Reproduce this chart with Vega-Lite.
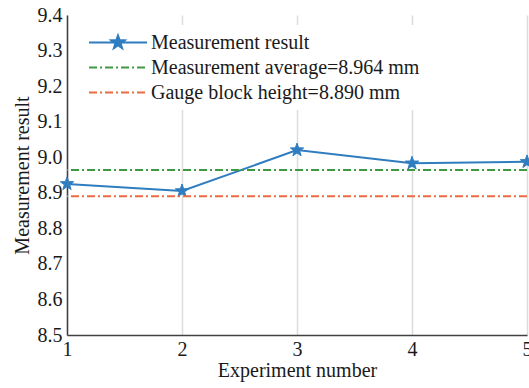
{
  "$schema": "https://vega.github.io/schema/vega-lite/v6.json",
  "width": 460,
  "height": 320,
  "autosize": {"type": "none"},
  "padding": {"left": 67, "top": 15, "right": 2, "bottom": 53},
  "background": "white",
  "config": {
    "view": {"stroke": null},
    "font": "Liberation Serif",
    "axis": {
      "labelFont": "Liberation Serif",
      "titleFont": "Liberation Serif",
      "labelFontSize": 20,
      "titleFontSize": 20,
      "titleFontWeight": "normal",
      "labelColor": "#1a1a1a",
      "titleColor": "#1a1a1a",
      "domainColor": "#404040",
      "domainWidth": 1.5,
      "ticks": false,
      "labelOverlap": false
    },
    "legend": {
      "labelFont": "Liberation Serif",
      "labelFontSize": 20,
      "labelColor": "#1a1a1a",
      "labelLimit": 0
    }
  },
  "layer": [
    {
      "data": {
        "values": [
          {"experiment": 1, "result": 8.925, "series": "Measurement result"},
          {"experiment": 2, "result": 8.905, "series": "Measurement result"},
          {"experiment": 3, "result": 9.02, "series": "Measurement result"},
          {"experiment": 4, "result": 8.983, "series": "Measurement result"},
          {"experiment": 5, "result": 8.987, "series": "Measurement result"}
        ]
      },
      "mark": {
        "type": "line",
        "strokeWidth": 2,
        "point": {
          "shape": "M0,-1L0.235,-0.324L0.951,-0.309L0.38,0.124L0.588,0.809L0,0.4L-0.588,0.809L-0.38,0.124L-0.951,-0.309L-0.235,-0.324Z",
          "filled": true,
          "size": 196,
          "fill": "#2f7dc0",
          "stroke": "#2f7dc0",
          "strokeWidth": 1,
          "opacity": 1
        }
      },
      "encoding": {
        "x": {
          "field": "experiment",
          "type": "quantitative",
          "scale": {"domain": [1, 5], "nice": false, "zero": false},
          "axis": {
            "values": [1, 2, 3, 4, 5],
            "tickCount": 5,
            "format": "d",
            "title": "Experiment number",
            "grid": true,
            "gridColor": "#dcdcdc",
            "gridWidth": 1.5,
            "labelPadding": 4,
            "titlePadding": 1,
            "labelFlush": false,
            "labelOverlap": false
          }
        },
        "y": {
          "field": "result",
          "type": "quantitative",
          "scale": {"domain": [8.5, 9.4], "nice": false, "zero": false},
          "axis": {
            "values": [8.5, 8.6, 8.7, 8.8, 8.9, 9.0, 9.1, 9.2, 9.3, 9.4],
            "tickCount": 12,
            "format": ".1f",
            "title": "Measurement result",
            "grid": false,
            "labelPadding": 5,
            "titlePadding": 5,
            "labelOverlap": false,
            "labelFlush": false
          }
        },
        "color": {
          "field": "series",
          "type": "nominal",
          "scale": {
            "domain": ["Measurement result", "Measurement average=8.964 mm", "Gauge block height=8.890 mm"],
            "range": ["#2f7dc0", "#3e9a42", "#ec6a42"]
          },
          "legend": {
            "title": null,
            "orient": "none",
            "legendX": 16,
            "legendY": 10,
            "padding": 5,
            "fillColor": "white",
            "strokeColor": null,
            "symbolType": "stroke",
            "symbolSize": 3364,
            "symbolStrokeWidth": 2,
            "labelOffset": 3,
            "clipHeight": 25,
            "rowPadding": 0,
            "encode": {
              "symbols": {
                "update": {
                  "shape": {"signal": "datum.value === 'Measurement result' ? 'M-1,0L1,0M0,-0.24L0.057,-0.078L0.228,-0.074L0.091,0.03L0.141,0.194L0,0.096L-0.141,0.194L-0.091,0.03L-0.228,-0.074L-0.057,-0.078Z' : 'stroke'"},
                  "strokeDash": {"signal": "datum.value === 'Measurement result' ? [1,0] : [8,3,2,3]"},
                  "fill": {"signal": "datum.value === 'Measurement result' ? '#2f7dc0' : 'transparent'"},
                  "opacity": {"value": 1}
                }
              }
            }
          }
        }
      }
    },
    {
      "data": {
        "values": [
          {"series": "Measurement average=8.964 mm", "level": 8.964},
          {"series": "Gauge block height=8.890 mm", "level": 8.89}
        ]
      },
      "mark": {"type": "rule", "strokeWidth": 2, "strokeDash": [8, 3, 2, 3]},
      "encoding": {
        "y": {"field": "level", "type": "quantitative"},
        "color": {"field": "series", "type": "nominal"}
      }
    }
  ]
}
